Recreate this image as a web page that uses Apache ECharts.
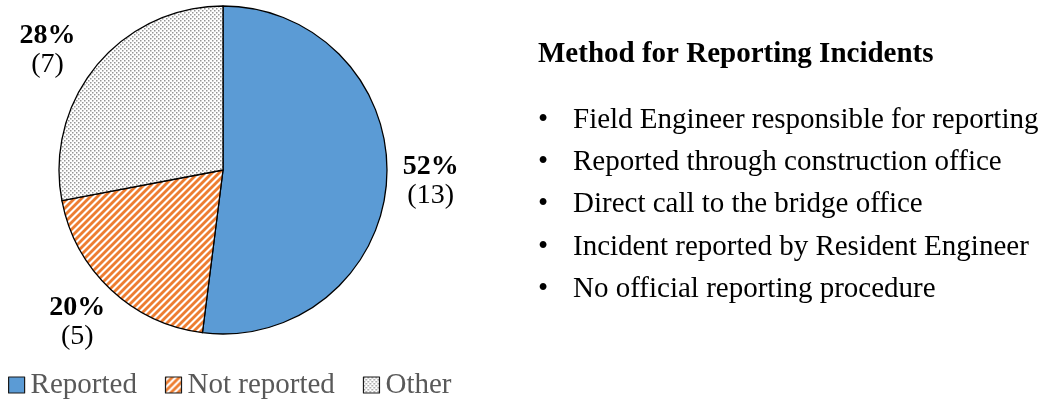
<!DOCTYPE html>
<html><head><meta charset="utf-8">
<script src="https://cdn.jsdelivr.net/npm/echarts@6/dist/echarts.min.js"></script>
<style>html,body{margin:0;padding:0;background:#fff}#c{width:1049px;height:405px}</style>
</head><body><div id="c"></div>
<script>
var categories = ['Reported', 'Not reported', 'Other'];
var counts = [13, 5, 7];
var titleText = 'Method for Reporting Incidents';
var bullets = [
  'Field Engineer responsible for reporting',
  'Reported through construction office',
  'Direct call to the bridge office',
  'Incident reported by Resident Engineer',
  'No official reporting procedure'
];

function stripe() {
  var n = 7, c = document.createElement('canvas');
  c.width = n; c.height = n;
  var g = c.getContext('2d');
  g.fillStyle = '#fff'; g.fillRect(0, 0, n, n);
  g.strokeStyle = '#ED7D31'; g.lineWidth = 2.8;
  for (var k = -1; k <= 1; k++) {
    g.beginPath(); g.moveTo(k * n - 1, n + 1); g.lineTo(k * n + n + 1, -1); g.stroke();
  }
  return c;
}
function dots() {
  var c = document.createElement('canvas');
  c.width = 4; c.height = 4;
  var g = c.getContext('2d');
  g.fillStyle = '#fff'; g.fillRect(0, 0, 4, 4);
  g.fillStyle = '#969696';
  g.fillRect(0, 0, 1.5, 1.5); g.fillRect(2, 2, 1.5, 1.5);
  return c;
}
var fills = ['#5B9BD5', { image: stripe(), repeat: 'repeat' }, { image: dots(), repeat: 'repeat' }];

var font = '"Liberation Serif", "Times New Roman", serif';
var chart = echarts.init(document.getElementById('c'));
var graphics = [{
  type: 'text', x: 538, y: 55,
  style: { text: titleText, font: 'bold 29px ' + font, fill: '#000', verticalAlign: 'middle' }
}];
bullets.forEach(function (b, i) {
  var yy = 120 + i * 42.3;
  graphics.push({ type: 'text', x: 538, y: yy,
    style: { text: '\u2022', font: '29px ' + font, fill: '#000', verticalAlign: 'middle' } });
  graphics.push({ type: 'text', x: 573, y: yy,
    style: { text: b, font: '29px ' + font, fill: '#000', verticalAlign: 'middle' } });
});

// label nudges (per slice) relative to the library's outside placement
var labelNudge = [[0, 0], [8, 27], [-7, -10]];

chart.setOption({
  animation: false,
  graphic: graphics,
  legend: {
    left: 8, top: 370, padding: 0, itemWidth: 16, itemHeight: 16, itemGap: 28,
    icon: 'rect',
    textStyle: { fontFamily: font, fontSize: 29, lineHeight: 30, color: '#595959', padding: [0, 0, 0, 1] },
    itemStyle: { borderColor: '#1a1a1a', borderWidth: 1.2 },
    data: categories
  },
  series: [{
    type: 'pie',
    center: [223, 170],
    radius: 164,
    startAngle: 90,
    clockwise: true,
    itemStyle: { borderColor: '#000', borderWidth: 1.3 },
    label: {
      show: true, position: 'outside',
      formatter: function (p) { return '{b|' + p.percent.toFixed(0) + '%}\n{c|(' + p.value + ')}'; },
      rich: {
        b: { fontFamily: font, fontWeight: 'bold', fontSize: 28, color: '#000', width: 62, align: 'center', lineHeight: 29 },
        c: { fontFamily: font, fontSize: 28, color: '#000', width: 62, align: 'center', lineHeight: 29 }
      }
    },
    labelLine: { show: false, length: 8, length2: 0 },
    labelLayout: function (p) {
      var n = labelNudge[p.dataIndex];
      return { dx: n[0], dy: n[1] };
    },
    data: categories.map(function (n, i) { return { name: n, value: counts[i], itemStyle: { color: fills[i] } }; })
  }]
});
</script></body></html>
